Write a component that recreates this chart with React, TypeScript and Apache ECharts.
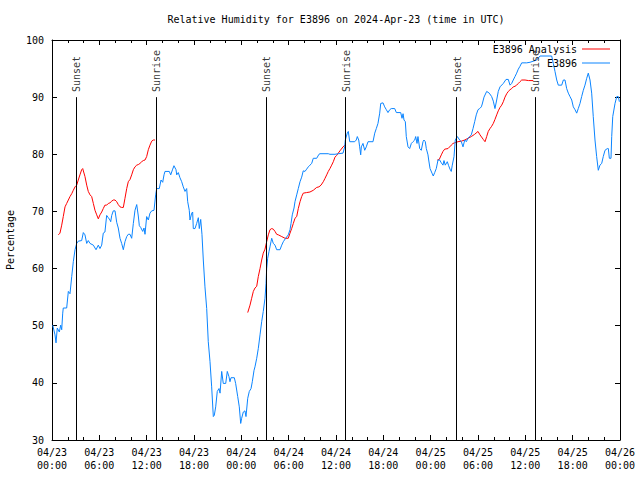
import React, { useEffect, useRef } from "react";
import * as echarts from "echarts";

const titleText = "Relative Humidity for E3896 on 2024-Apr-23 (time in UTC)";
const yAxisName = "Percentage";
const xTickLabels = [
  "04/23\n00:00", "04/23\n06:00", "04/23\n12:00", "04/23\n18:00",
  "04/24\n00:00", "04/24\n06:00", "04/24\n12:00", "04/24\n18:00",
  "04/25\n00:00", "04/25\n06:00", "04/25\n12:00", "04/25\n18:00",
  "04/26\n00:00",
];

// Observations (hours since 04/23 00:00 UTC, % RH)
const blueHours = [
  0.09, 0.38, 0.51, 0.67, 0.93, 1.10, 1.23, 1.36, 1.43, 1.86, 2.07, 2.28, 2.50, 2.70, 2.92, 3.13, 3.33, 3.76, 3.97, 4.18,
  4.40, 4.60, 4.82, 5.24, 5.58, 5.87, 6.08, 6.30, 6.50, 6.71, 6.93, 7.14, 7.35, 7.44, 7.57, 7.77, 7.99, 8.20, 8.40, 8.62,
  8.83, 9.04, 9.25, 9.47, 9.67, 9.89, 10.10, 10.31, 10.52, 10.74, 10.94, 11.07, 11.24, 11.50, 11.66, 11.79, 12.00, 12.21, 12.42, 12.64,
  12.93, 13.14, 13.27, 13.60, 13.82, 14.03, 14.20, 14.32, 14.87, 15.05, 15.30, 15.46, 15.72, 15.81, 16.01, 16.22, 16.44, 16.64, 16.86, 17.07,
  17.20, 17.40, 17.49, 17.71, 17.83, 17.91, 18.13, 18.34, 18.55, 18.67, 18.85, 19.01, 19.18, 19.39, 19.61, 19.81, 20.03, 20.24, 20.45, 20.57,
  20.75, 20.95, 21.17, 21.30, 21.51, 21.71, 22.02, 22.22, 22.43, 22.56, 22.69, 23.11, 23.28, 23.54, 23.74, 23.92, 24.04, 24.25, 24.46, 24.59,
  24.81, 25.01, 25.23, 25.39, 25.61, 25.73, 25.95, 26.15, 26.37, 26.58, 26.78, 27.00, 27.13, 27.21, 27.34, 27.51, 27.63, 27.76, 27.85, 28.05,
  28.27, 28.48, 28.90, 29.12, 29.32, 29.62, 29.95, 30.17, 30.30, 30.46, 30.68, 30.80, 31.02, 31.22, 31.44, 31.65, 31.85, 32.07, 32.28, 32.49,
  32.70, 32.92, 33.12, 33.55, 33.84, 33.97, 35.02, 35.23, 35.87, 36.29, 36.89, 37.10, 37.18, 37.43, 37.56, 37.74, 38.37, 38.57, 38.70, 38.88,
  39.00, 39.13, 39.21, 39.42, 39.64, 39.84, 40.06, 40.69, 40.91, 41.11, 41.32, 41.54, 41.67, 41.96, 42.17, 42.38, 42.59, 42.81, 43.01, 43.44,
  43.65, 44.20, 44.37, 44.50, 44.62, 44.79, 44.91, 45.13, 45.34, 45.55, 45.76, 45.98, 46.10, 46.27, 46.39, 46.61, 46.81, 47.03, 47.15, 47.32,
  47.45, 47.66, 47.75, 47.92, 48.17, 48.33, 48.51, 48.71, 48.93, 49.14, 49.35, 49.56, 49.69, 49.85, 50.11, 50.28, 50.45, 50.61, 50.74, 50.96,
  51.12, 51.38, 51.68, 51.89, 52.10, 52.32, 52.52, 52.73, 52.95, 53.15, 53.37, 53.58, 53.78, 54.00, 54.21, 54.42, 54.54, 54.76, 55.10, 55.43,
  55.73, 55.94, 56.15, 56.37, 56.57, 56.79, 57.21, 57.55, 57.84, 58.06, 58.27, 58.47, 58.69, 58.90, 59.11, 59.32, 59.54, 60.17, 60.59, 61.44,
  61.86, 63.34, 63.55, 63.76, 63.98, 64.18, 64.61, 64.82, 65.03, 65.24, 65.45, 65.66, 65.88, 66.08, 66.30, 66.51, 66.71, 66.93, 67.14, 67.35,
  67.56, 67.78, 67.98, 68.20, 68.41, 68.61, 68.83, 69.04, 69.25, 69.46, 69.68, 69.88, 70.10, 70.39, 70.52, 70.65, 70.86, 70.95, 71.08, 71.37,
  71.59, 71.79, 71.92,
];
const blueValues = [
  50.1, 48.4, 47.0, 49.6, 48.9, 50.1, 49.3, 52.2, 53.1, 53.1, 56.0, 55.6, 58.6, 61.2, 63.3, 64.4, 64.8, 64.9, 66.3, 65.9,
  64.4, 64.9, 64.4, 64.1, 63.3, 64.1, 63.5, 64.1, 66.2, 66.4, 69.3, 68.9, 68.5, 68.2, 69.3, 70.1, 70.1, 68.1, 67.1, 65.3,
  64.4, 63.3, 64.7, 65.6, 66.0, 66.0, 65.3, 67.9, 70.2, 71.2, 69.2, 67.5, 67.2, 66.5, 67.1, 66.0, 69.1, 68.5, 69.7, 70.1,
  70.2, 72.9, 74.0, 74.0, 75.5, 75.1, 76.4, 77.0, 77.0, 76.4, 77.4, 78.0, 77.3, 76.4, 76.8, 75.9, 75.2, 74.3, 73.5, 74.0,
  71.7, 70.2, 68.5, 69.7, 69.9, 67.0, 67.0, 67.9, 68.9, 67.0, 68.6, 66.0, 61.5, 56.8, 53.0, 47.2, 43.7, 39.3, 34.1, 34.3,
  35.8, 38.5, 39.0, 38.2, 42.0, 39.9, 39.9, 42.0, 41.1, 40.2, 40.9, 40.9, 39.9, 37.6, 35.8, 32.9, 33.8, 34.9, 35.1, 34.1,
  37.3, 38.5, 39.0, 40.2, 42.2, 42.8, 44.3, 46.0, 48.4, 50.7, 52.5, 54.8, 57.4, 60.0, 61.8, 63.0, 63.8, 64.7, 65.3, 64.4,
  64.1, 63.3, 63.3, 64.1, 64.7, 65.3, 65.9, 66.8, 67.9, 69.4, 70.6, 71.7, 72.9, 74.0, 75.2, 76.0, 77.1, 77.0, 77.4, 77.8,
  78.1, 78.4, 79.3, 79.3, 80.0, 80.1, 80.1, 80.0, 80.0, 80.1, 80.2, 81.3, 82.5, 83.7, 84.0, 82.2, 82.2, 82.5, 83.1, 82.5,
  81.3, 79.9, 81.3, 81.9, 80.7, 81.3, 82.2, 82.2, 83.7, 84.5, 85.4, 87.2, 88.9, 89.0, 88.3, 87.8, 87.3, 87.8, 88.0, 88.0,
  87.3, 87.3, 86.3, 87.1, 86.0, 85.7, 83.1, 81.3, 81.0, 81.9, 82.2, 82.5, 83.1, 81.9, 83.1, 81.0, 80.7, 82.2, 82.5, 82.2,
  81.0, 79.9, 79.0, 77.5, 76.7, 76.2, 76.8, 77.5, 79.0, 79.0, 78.5, 78.1, 78.9, 78.1, 78.7, 78.0, 77.4, 77.0, 78.1, 79.6,
  82.5, 83.1, 82.5, 82.2, 81.3, 82.5, 82.2, 82.8, 83.1, 83.4, 84.5, 85.7, 86.9, 87.8, 88.0, 88.3, 88.8, 90.0, 91.0, 90.7,
  90.1, 89.3, 88.0, 89.5, 91.0, 91.8, 92.4, 93.1, 93.1, 92.1, 92.4, 93.0, 93.6, 94.2, 94.9, 95.4, 96.0, 96.0, 96.1, 96.5,
  97.2, 97.2, 95.9, 94.5, 93.0, 92.1, 92.1, 93.0, 93.0, 91.5, 90.7, 90.1, 89.5, 88.3, 87.8, 87.2, 88.0, 88.9, 90.1, 91.2,
  92.1, 93.3, 94.2, 93.0, 90.7, 86.6, 82.5, 79.6, 77.2, 78.1, 78.4, 79.6, 80.7, 81.0, 81.0, 79.3, 79.3, 83.1, 86.6, 88.9,
  90.1, 90.1, 89.2,
];

// Analysis, three separate runs
const redHours1 = [
  0.80, 1.01, 1.23, 1.43, 1.65, 1.86, 2.07, 2.28, 2.50, 2.70, 2.92, 3.13, 3.33, 3.54, 3.76, 3.89, 3.97, 4.18, 4.40, 4.60,
  4.82, 5.03, 5.24, 5.45, 5.67, 5.87, 6.08, 6.30, 6.50, 6.71, 6.93, 7.14, 7.35, 7.57, 7.77, 7.99, 8.20, 8.40, 8.62, 8.83,
  9.04, 9.25, 9.47, 9.67, 9.89, 10.10, 10.31, 10.52, 10.74, 10.94, 11.15, 11.37, 11.57, 11.79, 12.00, 12.21, 12.42, 12.64, 12.84, 13.06,
];
const redValues1 = [
  65.9, 66.2, 67.6, 69.1, 70.8, 71.4, 72.0, 72.6, 73.1, 73.7, 74.3, 74.6, 75.5, 76.4, 77.3, 77.5, 77.5, 76.1, 74.6, 73.5,
  72.9, 72.6, 71.4, 70.2, 69.4, 68.7, 69.4, 69.9, 70.5, 71.1, 71.1, 71.4, 71.5, 71.8, 72.0, 72.0, 71.7, 71.2, 70.8, 70.7,
  70.7, 72.3, 74.0, 75.2, 75.6, 76.4, 77.3, 77.8, 78.1, 78.2, 78.4, 78.7, 78.9, 79.0, 79.6, 80.8, 81.6, 82.3, 82.5, 82.5,
];
const redHours2 = [
  24.81, 25.10, 25.31, 25.52, 25.73, 25.95, 26.15, 26.37, 26.58, 26.78, 27.00, 27.21, 27.42, 27.63, 27.85, 28.05, 28.27, 28.48, 28.69, 29.12,
  29.54, 29.95, 30.17, 30.38, 30.59, 30.80, 31.02, 31.22, 31.44, 31.65, 31.85, 32.28, 32.70, 33.12, 33.55, 33.84, 34.10, 34.39, 34.61, 34.82,
  35.02, 35.23, 35.45, 35.66, 35.87, 36.08, 36.29, 36.50, 36.89, 37.14,
];
const redValues2 = [
  52.3, 53.6, 54.8, 56.0, 56.6, 56.9, 58.6, 60.0, 61.5, 62.7, 63.4, 64.7, 65.9, 66.8, 67.0, 66.9, 66.5, 66.0, 65.9, 65.6,
  65.3, 65.3, 66.2, 67.0, 67.9, 68.8, 69.1, 70.5, 71.7, 72.6, 73.2, 73.3, 73.4, 73.7, 74.2, 74.3, 74.6, 75.2, 75.8, 76.4,
  77.0, 77.5, 78.1, 78.7, 79.5, 79.8, 80.2, 80.6, 81.3, 81.6,
];
const redHours3 = [
  48.84, 49.09, 49.35, 49.56, 49.78, 50.20, 50.61, 50.83, 51.04, 51.46, 51.89, 52.32, 52.73, 53.15, 53.58, 54.00, 54.25, 54.67, 54.89, 55.10,
  55.30, 55.52, 55.73, 55.94, 56.15, 56.37, 56.57, 56.79, 57.00, 57.21, 57.42, 57.64, 57.84, 58.06, 58.27, 58.47, 58.69, 58.90, 59.11, 59.32,
  59.54, 59.96, 60.38, 61.01,
];
const redValues3 = [
  79.0, 79.1, 79.9, 80.5, 80.9, 81.0, 81.6, 81.9, 82.0, 82.2, 82.3, 82.5, 82.8, 83.1, 83.5, 84.0, 83.4, 82.6, 82.2, 83.1,
  84.0, 84.5, 84.9, 85.4, 86.1, 86.9, 87.6, 88.2, 88.6, 89.2, 90.0, 90.6, 91.0, 91.3, 91.5, 91.8, 91.9, 92.1, 92.4, 92.7,
  93.0, 93.0, 92.9, 92.9,
];

const sunHours = [3.04, 13.18, 27.13, 37.18, 51.25, 61.22];
const sunLabels = ["Sunset", "Sunrise", "Sunset", "Sunrise", "Sunset", "Sunrise"];

const FONT = "DejaVu Sans Mono";
const BLUE = "#0a84ff";
const RED = "#ff0000";

export default function App() {
  const ref = useRef<HTMLDivElement>(null);

  useEffect(() => {
    if (!ref.current) return;
    const chart = echarts.init(ref.current, null, { renderer: "svg" });

    const blueData = blueHours.map((h, i) => [h, blueValues[i]]);
    const segs = [
      [redHours1, redValues1],
      [redHours2, redValues2],
      [redHours3, redValues3],
    ];
    const redData: any[] = [];
    segs.forEach(([hs, vs], si) => {
      if (si > 0) redData.push([hs[0] - 0.01, "-"]);
      hs.forEach((h, i) => redData.push([h, vs[i]]));
    });
    const sunData = sunHours.map((h, i) => ({ value: [h, 90], name: sunLabels[i] }));

    const tickStyle = { color: "#000", width: 1 };
    const xBase: any = {
      type: "value",
      min: 0,
      max: 72,
      interval: 6,
      splitLine: { show: false },
      axisLine: { show: true, onZero: false, lineStyle: tickStyle },
      axisTick: { show: true, inside: true, length: 5, lineStyle: tickStyle },
      minorTick: { show: true, splitNumber: 3, length: 3, lineStyle: tickStyle },
      minorSplitLine: { show: false },
    };
    const yBase: any = {
      type: "value",
      min: 30,
      max: 100,
      interval: 10,
      splitLine: { show: false },
      axisLine: { show: true, onZero: false, lineStyle: tickStyle },
      axisTick: { show: true, inside: true, length: 5, lineStyle: tickStyle },
    };

    chart.setOption({
      animation: false,
      textStyle: { fontFamily: FONT, fontSize: 10, color: "#000" },
      grid: {
        left: 52,
        right: 20,
        top: 40,
        bottom: 40,
        containLabel: false,
        outerBoundsMode: "none",
      },
      graphic: [
        {
          type: "text",
          x: 336,
          y: 19,
          style: {
            text: titleText,
            font: `10px "${FONT}"`,
            fill: "#000",
            textAlign: "center",
            textVerticalAlign: "middle",
          },
        },
      ],
      legend: {
        data: ["E3896 Analysis", "E3896"],
        orient: "vertical",
        right: 30,
        top: 43,
        padding: 0,
        align: "right",
        icon: "rect",
        itemWidth: 28,
        itemHeight: 1,
        itemGap: 2,
        textStyle: { fontFamily: FONT, fontSize: 10, color: "#000", lineHeight: 12 },
      },
      xAxis: [
        {
          ...xBase,
          position: "bottom",
          axisLabel: {
            show: true,
            formatter: (v: number) => xTickLabels[Math.round(v / 6)] ?? "",
            fontFamily: FONT,
            fontSize: 10,
            color: "#000",
            margin: 6,
            lineHeight: 13,
          },
        },
        { ...xBase, position: "top", axisLabel: { show: false } },
      ],
      yAxis: [
        {
          ...yBase,
          position: "left",
          name: yAxisName,
          nameLocation: "middle",
          nameGap: 36,
          nameRotate: 90,
          nameTextStyle: { fontFamily: FONT, fontSize: 10, color: "#000" },
          axisLabel: { fontFamily: FONT, fontSize: 10, color: "#000", margin: 8 },
        },
        { ...yBase, position: "right", axisLabel: { show: false } },
      ],
      series: [
        {
          name: "E3896 Analysis",
          type: "line",
          data: redData,
          symbol: "none",
          connectNulls: false,
          lineStyle: { color: RED, width: 1 },
          itemStyle: { color: RED },
          z: 2,
        },
        {
          name: "E3896",
          type: "line",
          data: blueData,
          symbol: "none",
          lineStyle: { color: BLUE, width: 1 },
          itemStyle: { color: BLUE },
          z: 3,
        },
        {
          name: "sun",
          type: "scatter",
          data: sunData,
          symbolSize: 0.1,
          itemStyle: { color: "rgba(0,0,0,0)" },
          silent: true,
          z: 4,
          label: {
            show: true,
            formatter: (p: any) => p.name,
            rotate: 90,
            position: [1, -5],
            align: "left",
            verticalAlign: "middle",
            fontFamily: FONT,
            fontSize: 10,
            color: "#000",
          },
          markLine: {
            silent: true,
            symbol: ["none", "none"],
            label: { show: false },
            lineStyle: { color: "#000", width: 1, type: "solid" },
            data: sunHours.map((h) => [{ coord: [h, 30] }, { coord: [h, 90] }]),
          },
        },
      ],
    });

    return () => chart.dispose();
  }, []);

  return (
    <div
      ref={ref}
      style={{ position: "absolute", left: 0, top: 0, width: 640, height: 480, background: "#fff" }}
    />
  );
}
